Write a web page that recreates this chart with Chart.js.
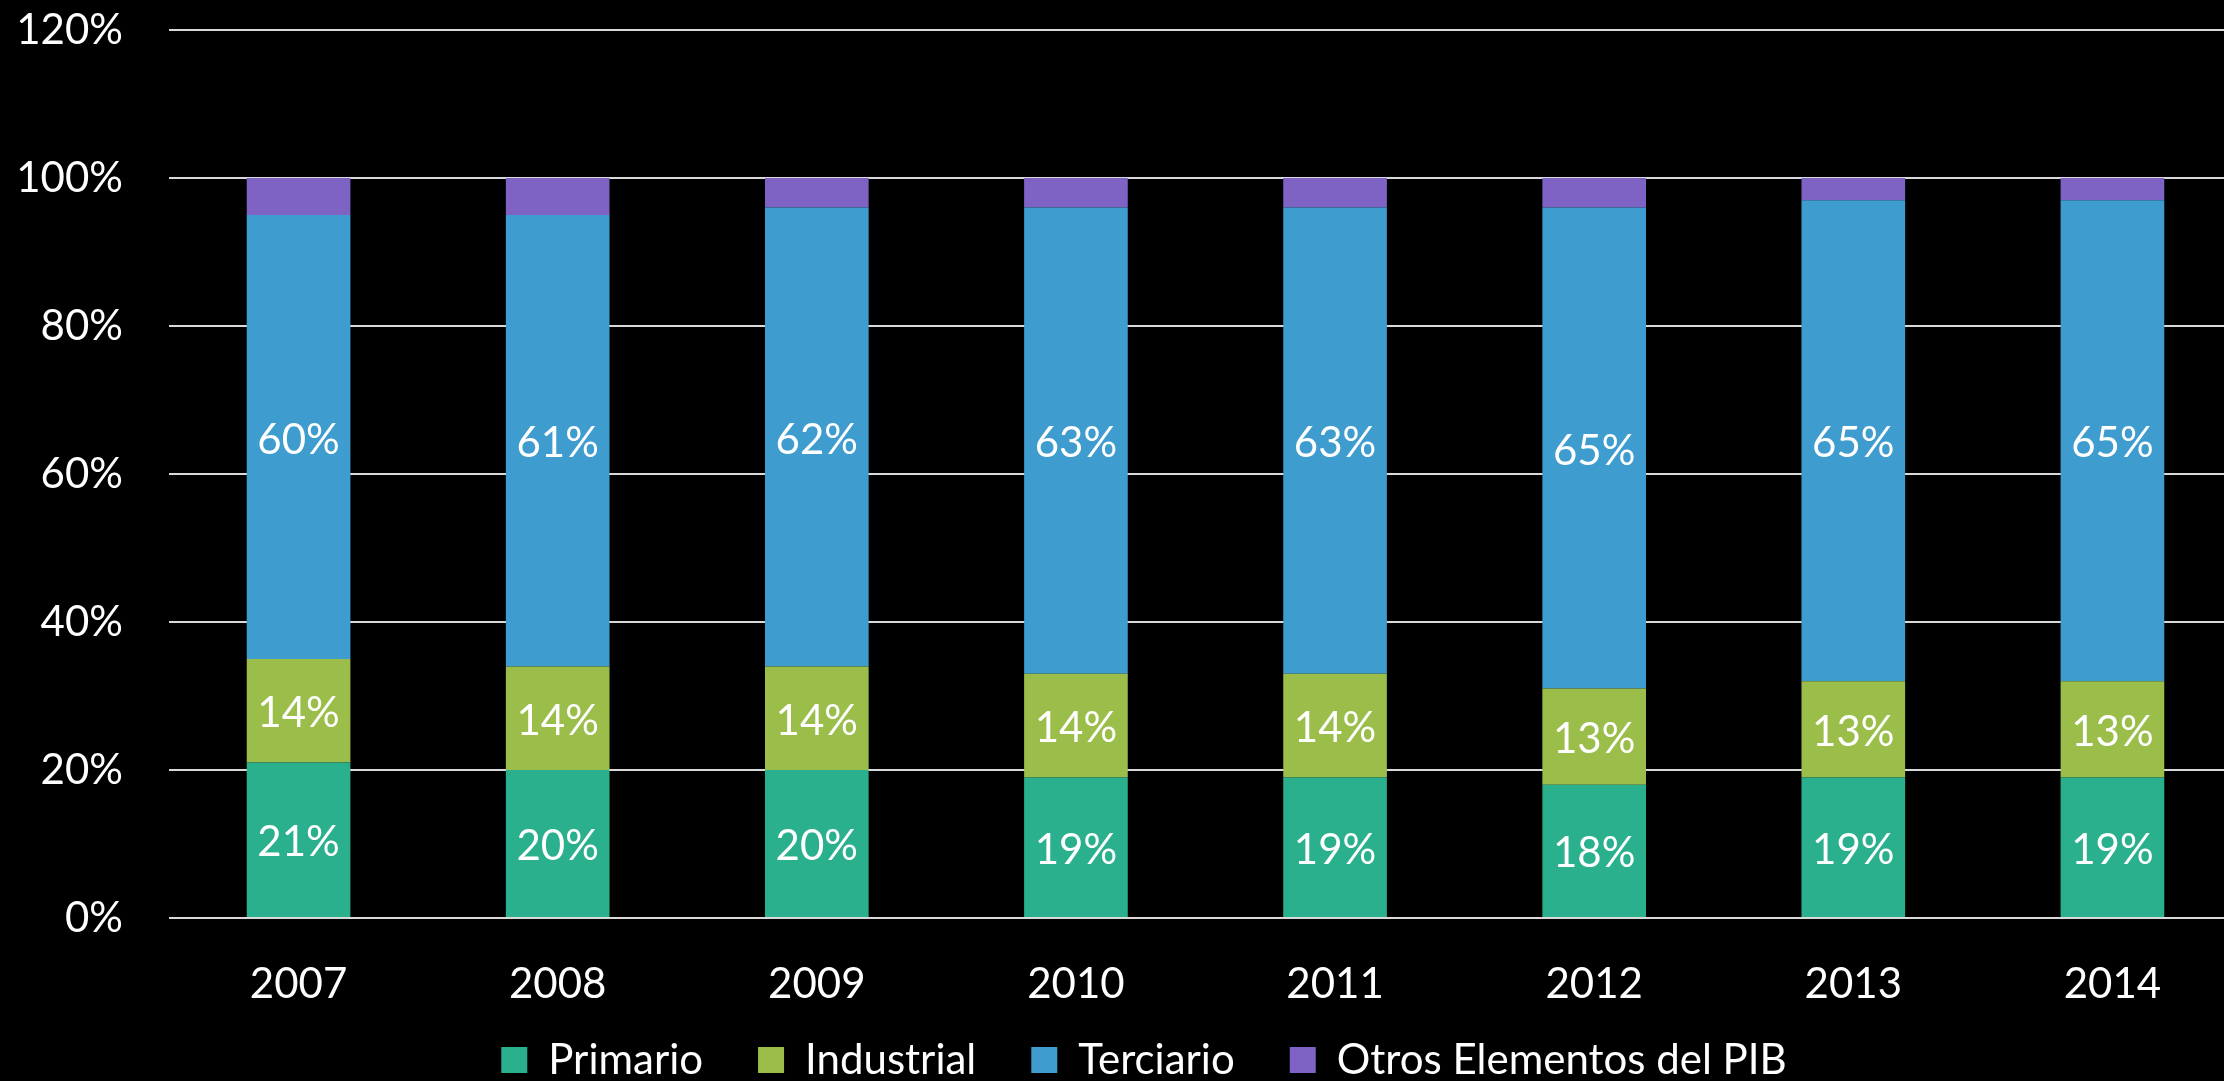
<!DOCTYPE html>
<html>
<head>
    <title>Composición del PIB por sector</title>
    <style>
        html, body { margin: 0; padding: 0; background: #000; overflow: hidden; }
        #wrap { width: 2288px; height: 1081px; }
    </style>
</head>
<body>
    <div id="wrap">
        <canvas id="myChart" width="2288" height="1081"></canvas>
    </div>

    <script src="https://cdn.jsdelivr.net/npm/chart.js"></script>

<script>
    // values, in %
    let years = ['2007', '2008', '2009', '2010', '2011', '2012', '2013', '2014'];
    let primario   = [21, 20, 20, 19, 19, 18, 19, 19];
    let industrial = [14, 14, 14, 14, 14, 13, 13, 13];
    let terciario  = [60, 61, 62, 63, 63, 65, 65, 65];
    let otros      = [5, 5, 4, 4, 4, 4, 3, 3];
    let yTicks = [0, 20, 40, 60, 80, 100, 120];

    Chart.defaults.font.family = 'Lato';
    Chart.defaults.font.size = 42;
    Chart.defaults.color = '#ffffff';

    // white % labels in the middle of each segment (not for "Otros")
    const segmentLabels = {
        id: 'segmentLabels',
        afterDatasetsDraw(chart) {
            const ctx = chart.ctx;
            ctx.save();
            ctx.font = '42px Lato';
            ctx.fillStyle = '#ffffff';
            ctx.textAlign = 'center';
            ctx.textBaseline = 'middle';
            chart.data.datasets.forEach((ds, i) => {
                if (i > 2) return;
                chart.getDatasetMeta(i).data.forEach((bar, j) => {
                    ctx.fillText(ds.data[j] + '%', bar.x, (bar.y + bar.base) / 2 + 3);
                });
            });
            ctx.restore();
        }
    };

    var ctx = document.getElementById('myChart').getContext('2d');
    let myChart = new Chart(ctx, {
        type: 'bar',
        data: {
            labels: years,
            datasets: [
                { label: 'Primario', data: primario, backgroundColor: '#2BB08E' },
                { label: 'Industrial', data: industrial, backgroundColor: '#9BBD4A' },
                { label: 'Terciario', data: terciario, backgroundColor: '#3E9CCE' },
                { label: 'Otros Elementos del PIB', data: otros, backgroundColor: '#7E63C4' }
            ]
        },
        options: {
            responsive: false,
            animation: false,
            devicePixelRatio: 1,
            barPercentage: 0.4,
            categoryPercentage: 1,
            layout: { padding: { top: 30, bottom: -10, left: 0, right: 0 } },
            plugins: {
                tooltip: { enabled: false },
                legend: {
                    position: 'bottom',
                    labels: {
                        boxWidth: 26,
                        boxHeight: 26,
                        padding: 55,
                        color: '#ffffff',
                        font: { size: 42 }
                    }
                }
            },
            scales: {
                x: {
                    stacked: true,
                    grid: { display: false },
                    border: { display: false },
                    ticks: { padding: 33, color: '#ffffff' },
                    afterFit: s => {
                        s.height = 66;
                        // the year labels hang a bit into the legend band, don't clip them
                        s._computeLabelArea = () => undefined;
                    }
                },
                y: {
                    stacked: true,
                    min: 0,
                    max: 120,
                    afterBuildTicks: s => { s.ticks = yTicks.map(v => ({ value: v })); },
                    grid: { color: '#d9d9d9', lineWidth: 2, drawTicks: false },
                    border: { display: false },
                    ticks: { padding: 46, color: '#ffffff', callback: v => v + '%' },
                    afterFit: s => { s.width = 169; s.paddingTop = 0; s.paddingBottom = 0; }
                },
                // empty right axis, only to leave room so the plot runs past the page edge
                yRight: {
                    position: 'right',
                    grid: { display: false },
                    border: { display: false },
                    ticks: { display: false },
                    afterFit: s => { s.width = 46; }
                }
            }
        },
        plugins: [segmentLabels]
    });
</script>
</body>
</html>
